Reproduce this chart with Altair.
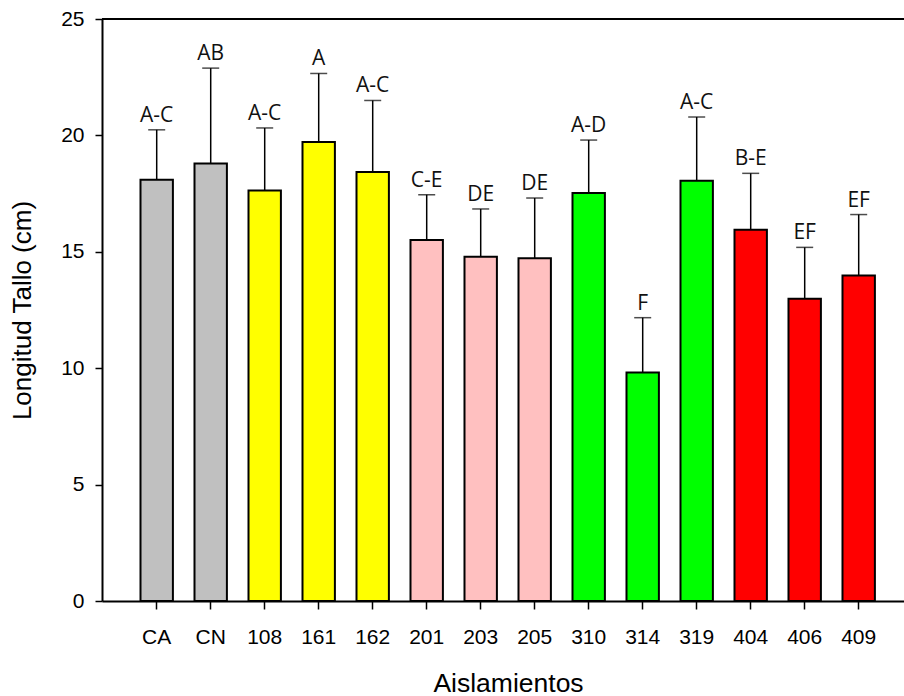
import altair as alt
import pandas as pd

categories = ["CA", "CN", "108", "161", "162", "201", "203", "205",
              "310", "314", "319", "404", "406", "409"]
means = [18.10, 18.79, 17.63, 19.72, 18.43, 15.51, 14.79, 14.72,
         17.53, 9.82, 18.05, 15.95, 12.98, 13.98]
sds = [2.14, 4.10, 2.69, 2.94, 3.07, 1.94, 2.05, 2.59,
       2.27, 2.35, 2.74, 2.42, 2.21, 2.62]
letters = ["A-C", "AB", "A-C", "A", "A-C", "C-E", "DE", "DE",
           "A-D", "F", "A-C", "B-E", "EF", "EF"]
groups = ["C", "C", "100", "100", "100", "200", "200", "200",
          "300", "300", "300", "400", "400", "400"]

group_domain = ["C", "100", "200", "300", "400"]
group_colors = ["#C0C0C0", "#FFFF00", "#FFC0C0", "#00FF00", "#FF0000"]

df = pd.DataFrame({
    "cat": categories,
    "mean": means,
    "upper": [m + s for m, s in zip(means, sds)],
    "letter": letters,
    "group": groups,
})

FONT = "Liberation Sans"

x_enc = alt.X(
    "cat:N",
    sort=categories,
    scale=alt.Scale(paddingInner=0.4, paddingOuter=0.626, align=0.5695),
    axis=alt.Axis(
        title="Aislamientos",
        labelAngle=0,
        labelFont=FONT,
        labelFontSize=21,
        labelColor="#000000",
        labelPadding=17,
        tickSize=8,
        tickColor="#000000",
        tickWidth=1.5,
        domainColor="#000000",
        domainWidth=2,
        titleFont=FONT,
        titleFontSize=26.5,
        titleFontWeight="normal",
        titleColor="#000000",
        titleX=406,
        titleY=90,
        titleBaseline="alphabetic",
        titleAlign="center",
        grid=False,
    ),
)

y_scale = alt.Scale(domain=[0, 25], nice=False)
y_axis = alt.Axis(
    title="Longitud Tallo (cm)",
    values=[0, 5, 10, 15, 20, 25],
    labelFont=FONT,
    labelFontSize=21,
    labelColor="#000000",
    labelPadding=11,
    tickSize=7,
    tickColor="#000000",
    tickWidth=1.5,
    domainColor="#000000",
    domainWidth=2,
    titleFont=FONT,
    titleFontSize=26,
    titleFontWeight="normal",
    titleColor="#000000",
    titleAngle=270,
    titleX=-72,
    titleY=291,
    titleBaseline="alphabetic",
    titleAlign="center",
    grid=False,
)

base = alt.Chart(df)

bars = base.mark_bar(stroke="#000000", strokeWidth=2).encode(
    x=x_enc,
    y=alt.Y("mean:Q", scale=y_scale, axis=y_axis),
    fill=alt.Fill("group:N", scale=alt.Scale(domain=group_domain, range=group_colors), legend=None),
)

err = base.mark_rule(color="#000000", strokeWidth=1.5).encode(
    x=alt.X("cat:N", sort=categories),
    y="mean:Q",
    y2="upper:Q",
)

caps = base.mark_tick(color="#000000", size=17, thickness=1.5, orient="horizontal").encode(
    x=alt.X("cat:N", sort=categories),
    y="upper:Q",
)

labels = base.mark_text(
    font="Open Sans", fontSize=21, color="#111111", baseline="alphabetic", dy=-8
).encode(
    x=alt.X("cat:N", sort=categories),
    y="upper:Q",
    text="letter:N",
)

top_line = alt.Chart(pd.DataFrame({"top": [25]})).mark_rule(
    color="#000000", strokeWidth=2
).encode(y="top:Q")

chart = (
    alt.layer(bars, err, caps, labels, top_line)
    .properties(
        width=802,
        height=582,
        autosize=alt.AutoSizeParams(type="none"),
        padding={"left": 102, "top": 19, "right": 0, "bottom": 95},
        background="#FFFFFF",
    )
    .configure_view(stroke=None)
)

chart.save("out.html", embed_options={"renderer": "svg", "actions": False})
